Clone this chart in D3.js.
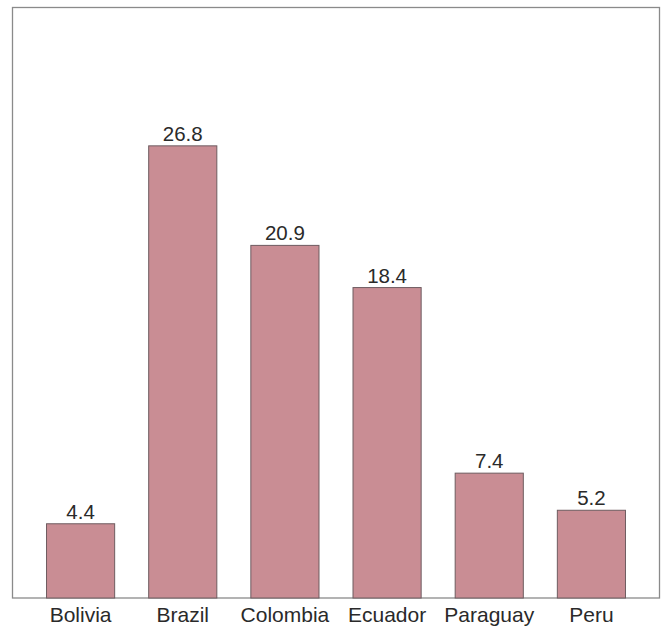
<!DOCTYPE html>
<html>
<head>
<meta charset="utf-8">
<script src="https://cdn.jsdelivr.net/npm/d3@7/dist/d3.min.js"></script>
<style>
  html, body { margin: 0; padding: 0; background: #ffffff; }
  svg { display: block; }
</style>
</head>
<body>
<svg id="chart" width="666" height="629"></svg>
<script>
// Share by country
const countries = ["Bolivia", "Brazil", "Colombia", "Ecuador", "Paraguay", "Peru"];
const values = [4.4, 26.8, 20.9, 18.4, 7.4, 5.2];

const svg = d3.select("#chart");
const frame = { left: 12.5, right: 659.5, top: 7.5, bottom: 598 };

const x = d3.scaleBand()
  .domain(countries)
  .range([frame.left, frame.right])
  .paddingInner(0.333)
  .paddingOuter(0.333);

const y = d3.scaleLinear()
  .domain([0, 35])
  .range([frame.bottom, frame.top]);

// Plot frame
svg.append("rect")
  .attr("x", frame.left)
  .attr("y", frame.top)
  .attr("width", frame.right - frame.left)
  .attr("height", frame.bottom - frame.top)
  .attr("fill", "none")
  .attr("stroke", "#8a8a8a")
  .attr("stroke-width", 1.3);

const data = countries.map((c, i) => ({ country: c, value: values[i] }));

// Bars
svg.append("g").selectAll("rect")
  .data(data)
  .join("rect")
  .attr("x", d => x(d.country))
  .attr("y", d => y(d.value))
  .attr("width", x.bandwidth())
  .attr("height", d => y(0) - y(d.value))
  .attr("fill", "#c98d94")
  .attr("stroke", "#6e5c60")
  .attr("stroke-width", 1);

// Value labels above bars
svg.append("g").selectAll("text")
  .data(data)
  .join("text")
  .attr("x", d => x(d.country) + x.bandwidth() / 2)
  .attr("y", d => y(d.value) - 5)
  .attr("text-anchor", "middle")
  .attr("font-family", "Liberation Sans, Arial, sans-serif")
  .attr("font-size", 20.5)
  .attr("fill", "#2a2a2a")
  .text(d => d.value.toFixed(1));

// Category axis
const xAxis = d3.axisBottom(x).tickSize(0).tickPadding(0);
const gx = svg.append("g")
  .attr("transform", `translate(0,${frame.bottom})`)
  .call(xAxis);
gx.select(".domain").remove();
gx.selectAll("text")
  .attr("y", 24)
  .attr("dy", 0)
  .attr("font-family", "Liberation Sans, Arial, sans-serif")
  .attr("font-size", 21)
  .attr("fill", "#2a2a2a");
</script>
</body>
</html>
